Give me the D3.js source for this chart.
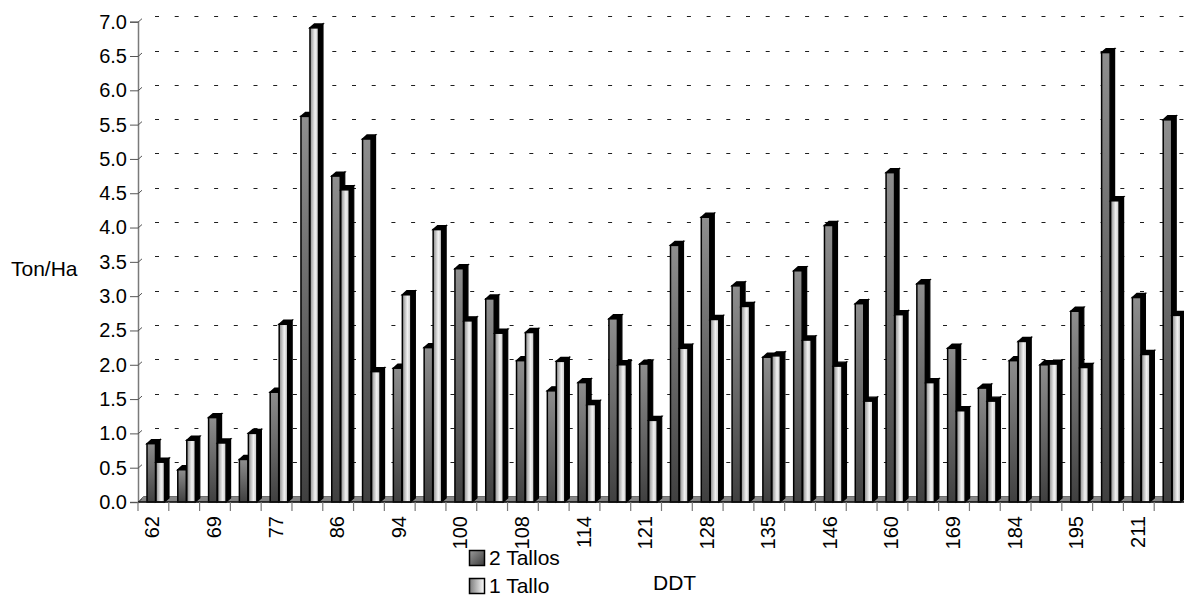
<!DOCTYPE html>
<html>
<head>
<meta charset="utf-8">
<script src="https://cdn.jsdelivr.net/npm/d3@7"></script>
<style>
  body { margin: 0; background: #fff; }
  text { font-family: "Liberation Sans", Arial, sans-serif; }
</style>
</head>
<body>
<div id="chart"></div>
<script>
// Data
const categories = ["62", "65", "69", "73", "77", "81", "86", "90", "94", "97", "100", "104",
    "108", "111", "114", "118", "121", "125", "128", "132", "135", "140", "146", "153",
    "160", "165", "169", "176", "184", "190", "195", "203", "211", "218"];
const seriesNames = ["2 Tallos", "1 Tallo"];
const dosTallos = [0.85, 0.47, 1.23, 0.62, 1.60, 5.62, 4.75, 5.29, 1.95, 2.25, 3.40, 2.96,
    2.06, 1.62, 1.74, 2.67, 2.01, 3.74, 4.15, 3.15, 2.11, 3.37, 4.03, 2.89,
    4.80, 3.18, 2.24, 1.66, 2.06, 2.00, 2.78, 6.55, 2.98, 5.57];
const unTallo = [0.58, 0.90, 0.86, 1.00, 2.59, 6.91, 4.55, 1.90, 3.02, 3.97, 2.64, 2.46,
    2.47, 2.05, 1.42, 2.00, 1.19, 2.24, 2.66, 2.85, 2.13, 2.36, 1.98, 1.47,
    2.73, 1.74, 1.33, 1.47, 2.34, 2.01, 1.96, 4.39, 2.15, 2.72];
const yTicks = d3.range(0, 7.01, 0.5);

// Layout
const W = 1184, H = 596;
const axisX = 138, baseY = 502, topY = 21.7;
const depth = { dx: 4.5, dy: 4 };     // bar 3D offset
const wall = 5.5;                     // back wall / floor offset

const svg = d3.select("#chart").append("svg")
    .attr("width", W)
    .attr("height", H);

const defs = svg.append("defs");

const gDark = defs.append("linearGradient").attr("id", "gDark")
    .attr("x1", 0).attr("y1", 0).attr("x2", 0).attr("y2", 1);
gDark.append("stop").attr("offset", "0%").attr("stop-color", "#8e8e8e");
gDark.append("stop").attr("offset", "100%").attr("stop-color", "#404040");

const gLight = defs.append("linearGradient").attr("id", "gLight")
    .attr("x1", 0).attr("y1", 0).attr("x2", 1).attr("y2", 0);
gLight.append("stop").attr("offset", "0%").attr("stop-color", "#8a8a8a");
gLight.append("stop").attr("offset", "60%").attr("stop-color", "#f2f2f2");
gLight.append("stop").attr("offset", "100%").attr("stop-color", "#c4c4c4");

const gLegDark = defs.append("linearGradient").attr("id", "gLegDark")
    .attr("x1", 0).attr("y1", 0).attr("x2", 1).attr("y2", 1);
gLegDark.append("stop").attr("offset", "0%").attr("stop-color", "#9a9a9a");
gLegDark.append("stop").attr("offset", "100%").attr("stop-color", "#3a3a3a");

const gLegLight = defs.append("linearGradient").attr("id", "gLegLight")
    .attr("x1", 0).attr("y1", 0).attr("x2", 1).attr("y2", 0);
gLegLight.append("stop").attr("offset", "0%").attr("stop-color", "#7a7a7a");
gLegLight.append("stop").attr("offset", "100%").attr("stop-color", "#ffffff");

// Scales
const x0 = d3.scaleBand().domain(categories).range([axisX, 1185]).padding(0);
const x1 = d3.scaleBand().domain(seriesNames).range([9, 27]).padding(0);
const y = d3.scaleLinear().domain([0, 7]).range([baseY, topY]);
const barW = 8.5;

// Gridlines (back wall, dashed)
svg.append("g")
    .selectAll("line")
    .data(yTicks.filter(d => d > 0))
    .enter()
    .append("line")
    .attr("x1", 155)
    .attr("x2", W)
    .attr("y1", d => Math.round(y(d) - wall) + 0.5)
    .attr("y2", d => Math.round(y(d) - wall) + 0.5)
    .attr("stroke", "#1e1e1e")
    .attr("stroke-width", 1.2)
    .attr("stroke-dasharray", "4 15.7");

// Floor
svg.append("polygon")
    .attr("points", [[axisX, baseY], [W + 10, baseY], [W + 10, baseY - wall], [axisX + wall, baseY - wall]].join(" "))
    .attr("fill", "#858585")
    .attr("stroke", "#555")
    .attr("stroke-width", 0.8);

// Left axis
const yAxis = svg.append("g")
    .attr("transform", `translate(${axisX},0)`)
    .call(d3.axisLeft(y).tickValues(yTicks).tickSize(8).tickPadding(3).tickFormat(d3.format(".1f")));
yAxis.select(".domain").attr("stroke", "#7a7a7a").attr("stroke-width", 1.5);
yAxis.selectAll(".tick line").attr("stroke", "#555");
yAxis.selectAll(".tick text")
    .attr("font-size", 20)
    .attr("font-family", "Liberation Sans, Arial, sans-serif")
    .attr("fill", "#000");
yAxis.selectAll(".tick").append("line")
    .attr("x1", 0).attr("y1", 0)
    .attr("x2", 4).attr("y2", -3.5)
    .attr("stroke", "#555");

// Bars
const groups = svg.append("g")
    .selectAll("g")
    .data(categories.map((c, i) => ({ cat: c, vals: [dosTallos[i], unTallo[i]] })))
    .enter()
    .append("g")
    .attr("transform", d => `translate(${x0(d.cat)},0)`);

groups.each(function(d) {
    const g = d3.select(this);
    d.vals.forEach((v, k) => {
        const bx = x1(seriesNames[k]);
        const by = y(v);
        const fill = k === 0 ? "url(#gDark)" : "url(#gLight)";
        // side face
        g.append("polygon")
            .attr("points", [[bx + barW, by], [bx + barW + depth.dx, by - depth.dy],
                [bx + barW + depth.dx, baseY - depth.dy], [bx + barW, baseY]].join(" "))
            .attr("fill", "#000")
            .attr("stroke", "#000")
            .attr("stroke-width", 1.2);
        // top face
        g.append("polygon")
            .attr("points", [[bx, by], [bx + depth.dx, by - depth.dy],
                [bx + barW + depth.dx, by - depth.dy], [bx + barW, by]].join(" "))
            .attr("fill", "#000")
            .attr("stroke", "#000")
            .attr("stroke-width", 1.4);
        // front face
        g.append("rect")
            .attr("x", bx)
            .attr("y", by)
            .attr("width", barW)
            .attr("height", baseY - by)
            .attr("fill", fill)
            .attr("stroke", "#000")
            .attr("stroke-width", 1.5);
    });
});

// Bottom axis
svg.append("line")
    .attr("x1", axisX).attr("x2", W)
    .attr("y1", baseY).attr("y2", baseY)
    .attr("stroke", "#111")
    .attr("stroke-width", 1.5);

svg.append("g")
    .selectAll("line")
    .data(categories)
    .enter()
    .append("line")
    .attr("x1", d => x0(d))
    .attr("x2", d => x0(d))
    .attr("y1", baseY)
    .attr("y2", baseY + 9)
    .attr("stroke", "#777")
    .attr("stroke-width", 1.2);

const xAxis = svg.append("g")
    .attr("transform", `translate(0,${baseY})`)
    .call(d3.axisBottom(x0).tickSize(0).tickFormat((d, i) => i % 2 === 0 ? d : ""));
xAxis.select(".domain").remove();
xAxis.selectAll(".tick text")
    .attr("transform", "rotate(-90)")
    .attr("text-anchor", "end")
    .attr("x", -14)
    .attr("y", -1)
    .attr("dy", "0.35em")
    .attr("font-size", 20)
    .attr("font-family", "Liberation Sans, Arial, sans-serif")
    .attr("fill", "#000");

// Titles
svg.append("text")
    .attr("x", 11)
    .attr("y", 276)
    .attr("font-size", 21)
    .text("Ton/Ha");

svg.append("text")
    .attr("x", 653)
    .attr("y", 590)
    .attr("font-size", 21)
    .text("DDT");

// Legend
const legend = svg.append("g").attr("transform", "translate(469,550)");
seriesNames.forEach((name, i) => {
    legend.append("rect")
        .attr("x", 0.5)
        .attr("y", i * 28 + 0.5)
        .attr("width", 15)
        .attr("height", 15)
        .attr("fill", i === 0 ? "url(#gLegDark)" : "url(#gLegLight)")
        .attr("stroke", "#000")
        .attr("stroke-width", 1.5);
    legend.append("text")
        .attr("x", 20)
        .attr("y", i * 28 + 15)
        .attr("font-size", 21)
        .text(name);
});
</script>
</body>
</html>
